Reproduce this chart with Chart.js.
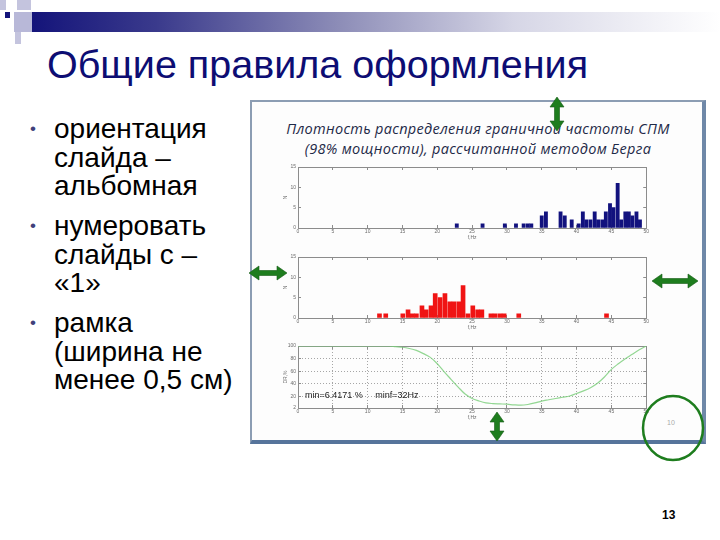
<!DOCTYPE html>
<html lang="ru">
<head>
<meta charset="utf-8">
<title>Общие правила оформления</title>
<script src="https://cdn.jsdelivr.net/npm/chart.js@4.4.1/dist/chart.umd.min.js"></script>
<style>
    html, body { margin: 0; padding: 0; background: #fff; }
    #diapositiva { position: relative; width: 720px; height: 540px; overflow: hidden; font-family: "Liberation Sans", Arial, sans-serif; }
    .cuadro { position: absolute; }
    #barra { position: absolute; left: 32px; top: 12px; width: 688px; height: 20px;
        background: linear-gradient(to right, #14147a 0%, #3a3a8c 18%, #8e8eb8 45%, #d6d6e6 70%, #ffffff 100%); }
    #titulo { position: absolute; left: 47px; top: 44px; font-size: 39.5px; line-height: 40px; color: #0d0d73; white-space: nowrap; }
    #lista { position: absolute; left: 54px; top: 115px; font-size: 28px; line-height: 28.5px; color: #000; white-space: nowrap; }
    .punto { position: relative; margin-bottom: 11.5px; }
    .punto::before { content: '\2022'; position: absolute; left: -24px; top: 0; font-size: 17px; color: #40407a; }
    #panel { position: absolute; left: 250px; top: 100px; width: 456px; height: 344px; box-sizing: border-box; background: #fdfdfd;
        border-top: 2px solid #8c9db3; border-left: 2px solid #8c9db3; border-right: 4px solid #6f88a8; border-bottom: 4px solid #56749b; }
    #tituloPanel { position: absolute; left: 250px; top: 119px; width: 456px; text-align: center; font-family: "Open Sans", sans-serif;
        font-style: italic; font-size: 14.5px; line-height: 20px; color: #1f2a48; letter-spacing: 0.3px; }
    canvas { position: absolute; }
    #nota { position: absolute; left: 305px; top: 390px; font-size: 9px; color: #222; white-space: pre; }
    #numPanel { position: absolute; left: 667px; top: 419px; font-size: 7px; color: #aaa; }
    #numero { position: absolute; left: 662px; top: 508px; font-size: 12px; font-weight: bold; color: #000; }
    #marcas { position: absolute; left: 0; top: 0; }
</style>
</head>
<body>
<div id="diapositiva">
    <div class="cuadro" style="left:0;top:0;width:6px;height:10px;background:#c4c4de"></div>
    <div class="cuadro" style="left:17px;top:0;width:14px;height:10px;background:#c4c4de"></div>
    <div class="cuadro" style="left:14px;top:12px;width:18px;height:20px;background:#b8b8d8"></div>
    <div class="cuadro" style="left:5px;top:12px;width:5px;height:6px;background:#14147a"></div>
    <div class="cuadro" style="left:15px;top:32px;width:6px;height:12px;background:#c4c4de"></div>
    <div id="barra"></div>
    <div id="titulo">Общие правила оформления</div>

    <div id="lista">
        <div class="punto">ориентация<br>слайда –<br>альбомная</div>
        <div class="punto">нумеровать<br>слайды с –<br>«1»</div>
        <div class="punto">рамка<br>(ширина не<br>менее 0,5 см)</div>
    </div>

    <div id="panel"></div>
    <div id="tituloPanel">Плотность распределения граничной частоты СПМ<br>(98% мощности), рассчитанной методом Берга</div>

    <canvas id="ChartAzul" width="371" height="82" style="left:282px;top:159px"></canvas>
    <canvas id="ChartRojo" width="371" height="82" style="left:282px;top:249px"></canvas>
    <canvas id="ChartVerde" width="371" height="83" style="left:282px;top:338px"></canvas>

    <div id="nota">min=6.4171 %     minf=32Hz</div>
    <div id="numPanel">10</div>
    <div id="numero">13</div>

    <svg id="marcas" width="720" height="540"></svg>
</div>

<script>
// Datos: frecuencia (Hz) y cantidad por barra
const frecAzul = [22.8, 26.5, 29.7, 31.3, 32.4, 33.0, 33.5, 35.0, 35.6, 37.7, 38.3, 39.3, 40.3, 40.9, 41.4,
    42.0, 42.6, 43.1, 43.7, 44.2, 44.8, 45.3, 45.9, 46.4, 47.0, 47.5, 48.0, 48.6, 49.1];
const cantAzul = [1, 1, 1, 1, 1, 1, 1, 3, 4, 4, 3, 2, 1, 4, 2,
    2, 4, 2, 2, 4, 6, 5, 11, 2, 4, 4, 3, 4, 2];

const frecRojo = [11.7, 12.6, 15.05, 15.8, 16.4, 17.0, 17.8, 18.4, 19.1, 19.7, 20.4, 21.1, 21.8, 22.4, 23.1,
    23.7, 24.4, 25.1, 25.8, 26.4, 27.7, 28.3, 29.0, 29.6, 31.7, 44.3];
const cantRojo = [1, 1, 1, 2, 1, 1, 3, 2, 3, 6, 5, 6, 4, 4, 4,
    8, 1, 3, 2, 2, 1, 1, 1, 1, 1, 1];

// Curva verde (%), un valor por Hz de 0 a 50
const frecVerde = [0, 1, 2, 3, 4, 5, 6, 7, 8, 9, 10, 11, 12, 13, 14, 15, 16, 17, 18, 19, 20, 21, 22, 23, 24, 25,
    26, 27, 28, 29, 30, 31, 32, 33, 34, 35, 36, 37, 38, 39, 40, 41, 42, 43, 44, 45, 46, 47, 48, 49, 50];
const valVerde = [100, 100, 100, 100, 100, 100, 100, 100, 100, 100, 100, 100, 100, 100, 99, 98, 96, 93, 88, 82, 72,
    59, 47, 35, 24, 17, 13, 10, 9, 8.5, 8, 7, 6.4, 7.5, 10, 13, 15, 17, 19, 21, 25, 29, 34, 41, 51, 63,
    72, 80, 87, 94, 100];

// Marcas de los ejes
const ticksX = [0, 5, 10, 15, 20, 25, 30, 35, 40, 45, 50];
const ticksHist = [0, 5, 10, 15];
const ticksVerde = [2, 20, 40, 60, 80, 100];

Chart.defaults.font.family = "'Liberation Sans', Arial, sans-serif";
Chart.defaults.animation = false;

const colorEje = '#8c8c8c';
const fuenteEje = { size: 5 };

// Función para fijar las marcas de un eje
function fijarTicks(lista) {
    return function (escala) {
        escala.ticks = lista.map(v => ({ value: v }));
    };
}

// Función para construir las escalas (marco tipo MATLAB con marcas hacia dentro)
function crearEscalas(yMin, yMax, yTicks, yTitulo, conRejilla) {
    const rejilla = {
        display: true,
        offset: false,
        drawOnChartArea: conRejilla,
        color: conRejilla ? '#a6a6a6' : colorEje,
        tickColor: colorEje,
        lineWidth: 1,
        tickLength: -3
    };
    const borde = { display: true, color: colorEje, width: 1, dash: conRejilla ? [1, 2] : [] };
    const sinRejilla = Object.assign({}, rejilla, { drawOnChartArea: false });

    return {
        x: {
            type: 'linear', position: 'bottom', min: 0, max: 50, offset: false,
            afterBuildTicks: fijarTicks(ticksX),
            ticks: { font: fuenteEje, color: '#6b6b6b', padding: 4, maxRotation: 0, autoSkip: false },
            grid: rejilla, border: borde,
            title: { display: true, text: 'f,Hz', font: fuenteEje, color: '#6b6b6b', padding: { top: 0, bottom: 0 } },
            afterFit: escala => { escala.height = 13; }
        },
        xArriba: {
            type: 'linear', position: 'top', min: 0, max: 50, offset: false,
            afterBuildTicks: fijarTicks(ticksX),
            ticks: { display: false },
            grid: sinRejilla, border: { display: true, color: colorEje, width: 1 },
            afterFit: escala => { escala.height = 4; }
        },
        y: {
            type: 'linear', position: 'left', min: yMin, max: yMax,
            afterBuildTicks: fijarTicks(yTicks),
            ticks: { font: fuenteEje, color: '#6b6b6b', padding: 5, autoSkip: false },
            grid: rejilla, border: borde,
            title: { display: true, text: yTitulo, font: fuenteEje, color: '#6b6b6b', padding: { top: 1, bottom: 0 } },
            afterFit: escala => { escala.width = 16; }
        },
        yDerecha: {
            type: 'linear', position: 'right', min: yMin, max: yMax,
            afterBuildTicks: fijarTicks(yTicks),
            ticks: { display: false },
            grid: sinRejilla, border: { display: true, color: colorEje, width: 1 },
            afterFit: escala => { escala.width = 6; }
        }
    };
}

// Función para crear un histograma
function crearHistograma(idCanvas, frecuencias, cantidades, color, grosor) {
    const ctx = document.getElementById(idCanvas).getContext('2d');
    return new Chart(ctx, {
        type: 'bar',
        data: {
            datasets: [{
                label: 'N',
                data: frecuencias.map((f, i) => ({ x: f, y: cantidades[i] })),
                backgroundColor: color,
                borderWidth: 0,
                barThickness: grosor
            }]
        },
        options: {
            responsive: false,
            plugins: { legend: { display: false }, tooltip: { enabled: false } },
            scales: crearEscalas(0, 15, ticksHist, 'N', false)
        }
    });
}

crearHistograma('ChartAzul', frecAzul, cantAzul, '#12127e', 3.2);
crearHistograma('ChartRojo', frecRojo, cantRojo, '#f01414', 4);

// Gráfico de la curva verde
const ctxVerde = document.getElementById('ChartVerde').getContext('2d');
const graficoVerde = new Chart(ctxVerde, {
    type: 'line',
    data: {
        datasets: [{
            label: 'DR,%',
            data: frecVerde.map((f, i) => ({ x: f, y: valVerde[i] })),
            borderColor: 'rgba(120, 205, 120, 0.8)',
            borderWidth: 1.2,
            pointRadius: 0,
            fill: false,
            cubicInterpolationMode: 'monotone'
        }]
    },
    options: {
        responsive: false,
        plugins: { legend: { display: false }, tooltip: { enabled: false } },
        scales: crearEscalas(2, 100, ticksVerde, 'DR,%', true)
    }
});

// Flechas y círculo verdes de la diapositiva
function flecha(x1, y1, x2, y2) {
    const largo = Math.hypot(x2 - x1, y2 - y1);
    const ang = Math.atan2(y2 - y1, x2 - x1) * 180 / Math.PI;
    const p = [[0, 0], [10, -7], [10, -2.5], [largo - 10, -2.5], [largo - 10, -7], [largo, 0],
        [largo - 10, 7], [largo - 10, 2.5], [10, 2.5], [10, 7]];
    return '<polygon points="' + p.map(q => q.join(',')).join(' ') + '" fill="#1e7d1e" stroke="#145a14" stroke-width="0.6"' +
        ' transform="translate(' + x1 + ',' + y1 + ') rotate(' + ang + ')"/>';
}

const svg = document.getElementById('marcas');
svg.innerHTML =
    flecha(557, 97, 557, 131) +
    flecha(249, 273, 287, 273) +
    flecha(652, 281, 698, 281) +
    flecha(497, 412, 497, 441) +
    '<ellipse cx="673" cy="428" rx="30" ry="32" fill="none" stroke="#1e7d1e" stroke-width="2.5"/>';
</script>
</body>
</html>
